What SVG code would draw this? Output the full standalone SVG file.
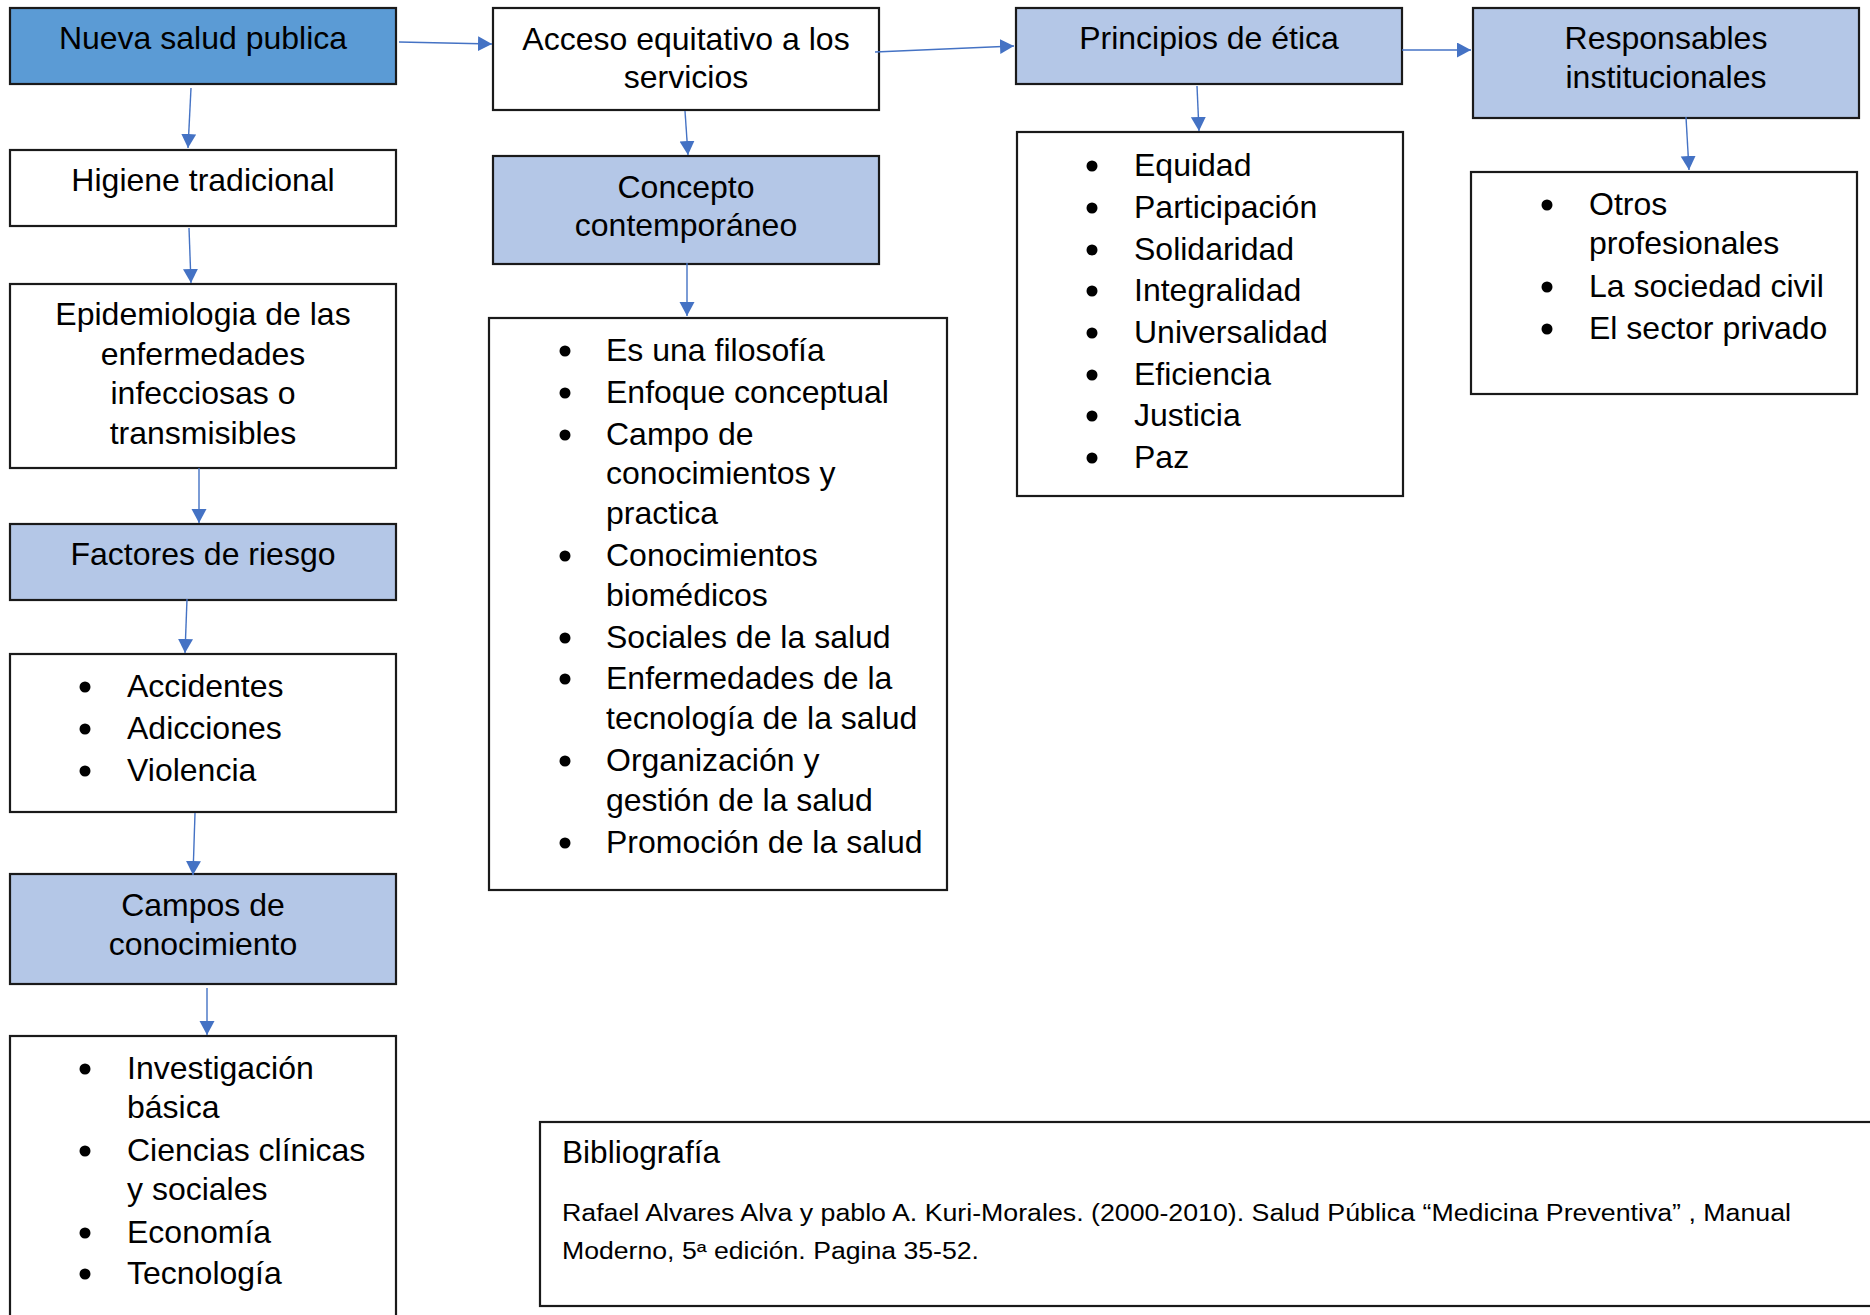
<svg xmlns="http://www.w3.org/2000/svg" width="1870" height="1315" viewBox="0 0 1870 1315">
<style>
.box{stroke:#1a1a1a;stroke-width:2.2;}
.dark{fill:#5B9BD5;}
.light{fill:#B4C7E7;}
.white{fill:#ffffff;}
text{font-family:"Liberation Sans",Arial,sans-serif;font-size:32px;fill:#000;}
.c{text-anchor:middle;}
.bib{font-size:23px;}
.conn line{stroke:#4472C4;stroke-width:1.4;fill:none;marker-end:url(#ah);}
.dot{fill:#000;}
</style>
<defs>
<marker id="ah" markerUnits="userSpaceOnUse" markerWidth="15" markerHeight="16" refX="14" refY="7.5" orient="auto">
<path d="M0,0 L14,7.5 L0,15 z" fill="#4472C4"/>
</marker>
</defs>
<rect width="1870" height="1315" fill="#ffffff"/>

<g id="nueva-salud-publica">
<rect class="box dark" x="10" y="8" width="386" height="76"/>
<text class="c" x="203" y="49">Nueva salud publica</text>
</g>

<g id="higiene-tradicional">
<rect class="box white" x="10" y="150" width="386" height="76"/>
<text class="c" x="203" y="191">Higiene tradicional</text>
</g>

<g id="epidemiologia">
<rect class="box white" x="10" y="284" width="386" height="184"/>
<text class="c" x="203" y="325">Epidemiologia de las</text>
<text class="c" x="203" y="365">enfermedades</text>
<text class="c" x="203" y="404">infecciosas o</text>
<text class="c" x="203" y="444">transmisibles</text>
</g>

<g id="factores-de-riesgo">
<rect class="box light" x="10" y="524" width="386" height="76"/>
<text class="c" x="203" y="565">Factores de riesgo</text>
</g>

<g id="factores-lista">
<rect class="box white" x="10" y="654" width="386" height="158"/>
<circle class="dot" cx="85" cy="687" r="5.5"/><text x="127" y="697">Accidentes</text>
<circle class="dot" cx="85" cy="729" r="5.5"/><text x="127" y="739">Adicciones</text>
<circle class="dot" cx="85" cy="771" r="5.5"/><text x="127" y="781">Violencia</text>
</g>

<g id="campos-de-conocimiento">
<rect class="box light" x="10" y="874" width="386" height="110"/>
<text class="c" x="203" y="916">Campos de</text>
<text class="c" x="203" y="955">conocimiento</text>
</g>

<g id="campos-lista">
<rect class="box white" x="10" y="1036" width="386" height="290"/>
<circle class="dot" cx="85" cy="1069" r="5.5"/><text x="127" y="1079">Investigación</text>
<text x="127" y="1118">básica</text>
<circle class="dot" cx="85" cy="1151" r="5.5"/><text x="127" y="1161">Ciencias clínicas</text>
<text x="127" y="1200">y sociales</text>
<circle class="dot" cx="85" cy="1233" r="5.5"/><text x="127" y="1243">Economía</text>
<circle class="dot" cx="85" cy="1274" r="5.5"/><text x="127" y="1284">Tecnología</text>
</g>

<g id="acceso-equitativo">
<rect class="box white" x="493" y="8" width="386" height="102"/>
<text class="c" x="686" y="50">Acceso equitativo a los</text>
<text class="c" x="686" y="88">servicios</text>
</g>

<g id="concepto-contemporaneo">
<rect class="box light" x="493" y="156" width="386" height="108"/>
<text class="c" x="686" y="198">Concepto</text>
<text class="c" x="686" y="236">contemporáneo</text>
</g>

<g id="concepto-lista">
<rect class="box white" x="489" y="318" width="458" height="572"/>
<circle class="dot" cx="565" cy="351" r="5.5"/><text x="606" y="361">Es una filosofía</text>
<circle class="dot" cx="565" cy="393" r="5.5"/><text x="606" y="403">Enfoque conceptual</text>
<circle class="dot" cx="565" cy="435" r="5.5"/><text x="606" y="445">Campo de</text>
<text x="606" y="484">conocimientos y</text>
<text x="606" y="524">practica</text>
<circle class="dot" cx="565" cy="556" r="5.5"/><text x="606" y="566">Conocimientos</text>
<text x="606" y="606">biomédicos</text>
<circle class="dot" cx="565" cy="638" r="5.5"/><text x="606" y="648">Sociales de la salud</text>
<circle class="dot" cx="565" cy="679" r="5.5"/><text x="606" y="689">Enfermedades de la</text>
<text x="606" y="729">tecnología de la salud</text>
<circle class="dot" cx="565" cy="761" r="5.5"/><text x="606" y="771">Organización y</text>
<text x="606" y="811">gestión de la salud</text>
<circle class="dot" cx="565" cy="843" r="5.5"/><text x="606" y="853">Promoción de la salud</text>
</g>

<g id="principios-de-etica">
<rect class="box light" x="1016" y="8" width="386" height="76"/>
<text class="c" x="1209" y="49">Principios de ética</text>
</g>

<g id="principios-lista">
<rect class="box white" x="1017" y="132" width="386" height="364"/>
<circle class="dot" cx="1092" cy="166" r="5.5"/><text x="1134" y="176">Equidad</text>
<circle class="dot" cx="1092" cy="208" r="5.5"/><text x="1134" y="218">Participación</text>
<circle class="dot" cx="1092" cy="250" r="5.5"/><text x="1134" y="260">Solidaridad</text>
<circle class="dot" cx="1092" cy="291" r="5.5"/><text x="1134" y="301">Integralidad</text>
<circle class="dot" cx="1092" cy="333" r="5.5"/><text x="1134" y="343">Universalidad</text>
<circle class="dot" cx="1092" cy="375" r="5.5"/><text x="1134" y="385">Eficiencia</text>
<circle class="dot" cx="1092" cy="416" r="5.5"/><text x="1134" y="426">Justicia</text>
<circle class="dot" cx="1092" cy="458" r="5.5"/><text x="1134" y="468">Paz</text>
</g>

<g id="responsables-institucionales">
<rect class="box light" x="1473" y="8" width="386" height="110"/>
<text class="c" x="1666" y="49">Responsables</text>
<text class="c" x="1666" y="88">institucionales</text>
</g>

<g id="responsables-lista">
<rect class="box white" x="1471" y="172" width="386" height="222"/>
<circle class="dot" cx="1547" cy="205" r="5.5"/><text x="1589" y="215">Otros</text>
<text x="1589" y="254">profesionales</text>
<circle class="dot" cx="1547" cy="287" r="5.5"/><text x="1589" y="297">La sociedad civil</text>
<circle class="dot" cx="1547" cy="329" r="5.5"/><text x="1589" y="339">El sector privado</text>
</g>

<g id="bibliografia">
<rect class="box white" x="540" y="1122" width="1340" height="184"/>
<text x="562" y="1163" font-size="29" textLength="158" lengthAdjust="spacingAndGlyphs">Bibliografía</text>
<text class="bib" x="562" y="1221" textLength="1229" lengthAdjust="spacingAndGlyphs">Rafael Alvares Alva y pablo A. Kuri-Morales. (2000-2010). Salud Pública “Medicina Preventiva” , Manual</text>
<text class="bib" x="562" y="1259" textLength="417" lengthAdjust="spacingAndGlyphs">Moderno, 5ª edición. Pagina 35-52.</text>
</g>

<g id="connectors" class="conn">
<line x1="191" y1="88" x2="188" y2="148"/>
<line x1="189" y1="228" x2="191" y2="283"/>
<line x1="199" y1="468" x2="199" y2="523"/>
<line x1="187" y1="599" x2="185" y2="653"/>
<line x1="195" y1="813" x2="193" y2="875"/>
<line x1="207" y1="988" x2="207" y2="1035"/>
<line x1="399" y1="42" x2="492" y2="44"/>
<line x1="685" y1="111" x2="688" y2="155"/>
<line x1="687" y1="263" x2="687" y2="316"/>
<line x1="875" y1="52" x2="1014" y2="46"/>
<line x1="1402" y1="50" x2="1471" y2="50"/>
<line x1="1197" y1="86" x2="1199" y2="131"/>
<line x1="1686" y1="117" x2="1689" y2="170"/>
</g>
</svg>
